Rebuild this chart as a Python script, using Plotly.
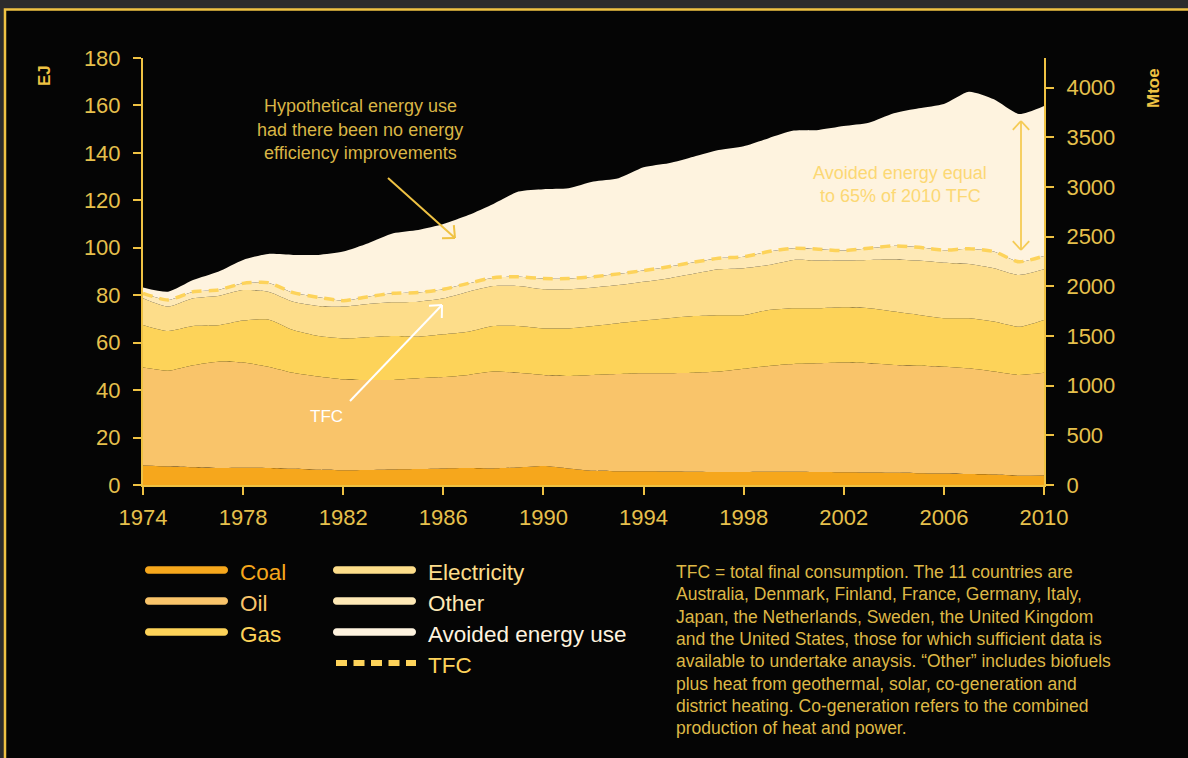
import math
import plotly.graph_objects as go

W, H = 1188, 758

years = list(range(1974, 2011))

coal = [8.2, 7.8, 7.5, 7.2, 7.3, 7.2, 6.8, 6.4, 6.2, 6.3, 6.5, 6.7, 7.0, 7.2, 7.0, 7.4, 8.0, 7.0, 6.0,
        5.8, 5.8, 5.7, 5.6, 5.5, 5.5, 5.6, 5.6, 5.5, 5.4, 5.3, 5.2, 5.0, 4.8, 4.6, 4.4, 3.9, 4.0]
oil = [41.3, 40.4, 43.0, 44.8, 44.3, 42.7, 40.5, 39.3, 38.3, 38.0, 37.8, 38.3, 38.5, 39.2, 40.8, 39.9,
       38.4, 39.0, 40.4, 41.0, 41.3, 41.4, 41.7, 42.3, 43.5, 44.6, 45.4, 45.8, 46.2, 46.0, 45.4, 45.3,
       45.1, 44.6, 43.4, 42.5, 43.3]
gas = [18.0, 16.7, 16.5, 15.3, 17.7, 19.9, 18.0, 17.1, 17.3, 18.0, 18.5, 17.5, 18.0, 18.2, 19.2, 19.7,
       19.6, 20.0, 20.6, 21.4, 22.2, 23.2, 23.9, 23.8, 22.6, 23.6, 23.5, 23.2, 23.3, 23.2, 22.5, 21.4,
       20.4, 21.1, 21.1, 20.3, 22.3]
electricity = [11.2, 10.3, 11.7, 12.4, 12.9, 11.7, 12.0, 12.7, 13.4, 14.0, 14.2, 14.8, 15.2, 16.9, 16.9,
               16.9, 16.5, 16.5, 16.3, 16.1, 16.4, 16.8, 17.8, 19.3, 19.8, 18.9, 20.4, 20.1, 19.7, 20.4,
               22.0, 22.9, 23.4, 22.9, 22.5, 21.8, 21.3]
other = [2.1, 2.8, 2.8, 2.5, 2.8, 3.8, 3.8, 3.6, 2.5, 3.1, 3.8, 3.8, 3.8, 3.5, 3.5, 3.9, 4.5, 4.5, 4.5,
         4.7, 4.7, 4.9, 4.9, 4.7, 4.8, 5.7, 4.9, 4.8, 4.2, 4.9, 5.7, 5.6, 5.3, 6.4, 7.0, 5.6, 5.6]
avoided = [2.5, 3.5, 4.9, 7.7, 9.9, 12.1, 15.9, 17.9, 20.7, 22.5, 25.3, 26.4, 27.5, 28.8, 31.1, 35.9,
           37.7, 38.1, 40.1, 40.3, 43.5, 43.6, 44.5, 45.6, 46.6, 47.8, 49.6, 50.3, 52.5, 52.9, 55.9,
           58.6, 61.6, 66.2, 64.2, 62.3, 63.3]

series_names = ["Coal", "Oil", "Gas", "Electricity", "Other", "Avoided energy use"]
series_values = [coal, oil, gas, electricity, other, avoided]
series_colors = ["#F6A71C", "#F9C46A", "#FDD359", "#FDDD8A", "#FEE9B6", "#FEF3DF"]

tfc = [round(a + b + c + d + e, 2) for a, b, c, d, e in zip(coal, oil, gas, electricity, other)]

x_ticks = list(range(1974, 2011, 4))
y_ticks = list(range(0, 181, 20))
mtoe_ticks = list(range(0, 4001, 500))
EJ_PER_MTOE = 0.041868

GOLD = "#EFC243"
TICK = "#E6C04C"
NOTE = "#DEB846"
FONT = "Liberation Sans, Arial, sans-serif"


def px(x):
    return x / W


def py(y):
    return 1 - y / H


fig = go.Figure()

for name, vals, col in zip(series_names, series_values, series_colors):
    fig.add_trace(go.Scatter(
        x=years, y=vals, name=name, stackgroup="one", mode="lines",
        line=dict(width=0, shape="spline", smoothing=0.6, color=col),
        fillcolor=col, hoverinfo="skip", showlegend=False))

fig.add_trace(go.Scatter(
    x=years, y=tfc, name="TFC", mode="lines",
    line=dict(color="#FDD35A", width=3.5, dash="10px,7px", shape="spline", smoothing=0.6),
    hoverinfo="skip", showlegend=False))

# invisible trace to materialise the right (Mtoe) axis
fig.add_trace(go.Scatter(x=[1974], y=[0], yaxis="y2", mode="markers",
                         marker=dict(opacity=0), hoverinfo="skip", showlegend=False))

shapes = []
# framed black panel
shapes.append(dict(type="rect", xref="paper", yref="paper",
                   x0=px(5), x1=px(1215), y0=py(9.5), y1=py(790),
                   fillcolor="#050505", line=dict(color=GOLD, width=2.5), layer="below"))


def seg(x1, y1, x2, y2, color, width, dash=None):
    ln = dict(color=color, width=width)
    if dash:
        ln["dash"] = dash
    return dict(type="line", xref="paper", yref="paper",
                x0=px(x1), y0=py(y1), x1=px(x2), y1=py(y2), line=ln, layer="above")


def arrow_head(xh, yh, xt, yt, color, width, size=13):
    dx, dy = xt - xh, yt - yh
    L = math.hypot(dx, dy)
    ux, uy = dx / L, dy / L
    out = []
    for a in (math.radians(43), math.radians(-43)):
        rx = ux * math.cos(a) - uy * math.sin(a)
        ry = ux * math.sin(a) + uy * math.cos(a)
        out.append(seg(xh, yh, xh + rx * size, yh + ry * size, color, width))
    return out


# Hypothetical arrow
shapes.append(seg(388, 178, 455, 238, GOLD, 2))
shapes += arrow_head(455, 238, 388, 178, GOLD, 2)
# TFC arrow (white)
shapes.append(seg(350, 401, 442, 305, "#FFFFFF", 2))
shapes += arrow_head(442, 305, 350, 401, "#FFFFFF", 2)
# avoided double arrow
shapes.append(seg(1021, 121, 1021, 250, "#F5CB55", 1.8))
shapes += arrow_head(1021, 121, 1021, 250, "#F5CB55", 1.8, size=12)
shapes += arrow_head(1021, 250, 1021, 121, "#F5CB55", 1.8, size=12)


def pill(x0, x1, yc, color, h=7.5):
    r = h / 2
    k = 1.33 * r
    pts = [
        f"M {px(x0 + r)},{py(yc - r)}",
        f"L {px(x1 - r)},{py(yc - r)}",
        f"C {px(x1 - r + k)},{py(yc - r)} {px(x1 - r + k)},{py(yc + r)} {px(x1 - r)},{py(yc + r)}",
        f"L {px(x0 + r)},{py(yc + r)}",
        f"C {px(x0 + r - k)},{py(yc + r)} {px(x0 + r - k)},{py(yc - r)} {px(x0 + r)},{py(yc - r)}",
        "Z",
    ]
    return dict(type="path", xref="paper", yref="paper", path=" ".join(pts),
                fillcolor=color, line=dict(width=0), layer="above")


legend_pos = [(145, 228, 570), (145, 228, 601), (145, 228, 632),
              (333, 416, 570), (333, 416, 601), (333, 416, 632)]
annotations = []
for (x0, x1, yc), name, col in zip(legend_pos, series_names, series_colors):
    shapes.append(pill(x0, x1, yc, col))
    annotations.append(dict(text=name, x=px(x1 + 10), y=py(yc + 2), xref="paper", yref="paper",
                            xanchor="left", yanchor="middle", showarrow=False,
                            font=dict(family=FONT, size=22.5, color=col)))
shapes.append(seg(336, 663, 416, 663, "#FDD35A", 6, dash="11px,6.5px"))
annotations.append(dict(text="TFC", x=px(426), y=py(665), xref="paper", yref="paper",
                        xanchor="left", yanchor="middle", showarrow=False,
                        font=dict(family=FONT, size=22.5, color="#FDD35A")))

note_lines = [
    "TFC = total final consumption. The 11 countries are",
    "Australia, Denmark, Finland, France, Germany, Italy,",
    "Japan, the Netherlands, Sweden, the United Kingdom",
    "and the United States, those for which sufficient data is",
    "available to undertake anaysis. \u201cOther\u201d includes biofuels",
    "plus heat from geothermal, solar, co-generation and",
    "district heating. Co-generation refers to the combined",
    "production of heat and power.",
]
for i, t in enumerate(note_lines):
    annotations.append(dict(text=t, x=px(674), y=py(572 + i * 22.3), xref="paper", yref="paper",
                            xanchor="left", yanchor="middle", showarrow=False,
                            font=dict(family=FONT, size=17.5, color=NOTE)))

hyp = ["Hypothetical energy use", "had there been no energy", "efficiency improvements"]
for i, t in enumerate(hyp):
    annotations.append(dict(text=t, x=px(360), y=py(106 + i * 23.5), xref="paper", yref="paper",
                            xanchor="center", yanchor="middle", showarrow=False,
                            font=dict(family=FONT, size=18, color="#D9B545")))

annotations.append(dict(text="TFC", x=px(326), y=py(416), xref="paper", yref="paper",
                        xanchor="center", yanchor="middle", showarrow=False,
                        font=dict(family=FONT, size=17, color="#FFFFFF")))

for i, t in enumerate(["Avoided energy equal", "to 65% of 2010 TFC"]):
    annotations.append(dict(text=t, x=px(900), y=py(173 + i * 23), xref="paper", yref="paper",
                            xanchor="center", yanchor="middle", showarrow=False,
                            font=dict(family=FONT, size=18, color="#FCD874")))

annotations.append(dict(text="<b>EJ</b>", x=px(45), y=py(76), xref="paper", yref="paper",
                        xanchor="center", yanchor="middle", showarrow=False, textangle=-90,
                        font=dict(family=FONT, size=17, color=GOLD)))
annotations.append(dict(text="<b>Mtoe</b>", x=px(1154), y=py(88), xref="paper", yref="paper",
                        xanchor="center", yanchor="middle", showarrow=False, textangle=-90,
                        font=dict(family=FONT, size=17, color=GOLD)))

axis_common = dict(showgrid=False, zeroline=False, showline=True, linecolor=GOLD, linewidth=2,
                   ticks="outside", ticklen=8, tickwidth=2, tickcolor=GOLD, automargin=False,
                   tickfont=dict(family=FONT, size=22, color=TICK))

fig.update_layout(
    width=W, height=H, autosize=False,
    margin=dict(l=0, r=0, t=0, b=0, pad=0),
    paper_bgcolor="#2c2c2c", plot_bgcolor="rgba(0,0,0,0)",
    showlegend=False,
    xaxis=dict(domain=[px(143), px(1044)], range=[1974, 2010], tickvals=x_ticks,
               ticklabelstandoff=4, **axis_common),
    yaxis=dict(domain=[py(485), py(58)], range=[0, 180], tickvals=y_ticks,
               ticklabelstandoff=8, **axis_common),
    yaxis2=dict(overlaying="y", side="right", anchor="x", range=[0, 180 / EJ_PER_MTOE],
                tickvals=mtoe_ticks, ticklabelstandoff=8, **axis_common),
    shapes=shapes, annotations=annotations,
)

fig.write_html("out.html", config={"displayModeBar": False},
               post_script="document.body.style.margin='0px';document.body.style.background='#2c2c2c';")
